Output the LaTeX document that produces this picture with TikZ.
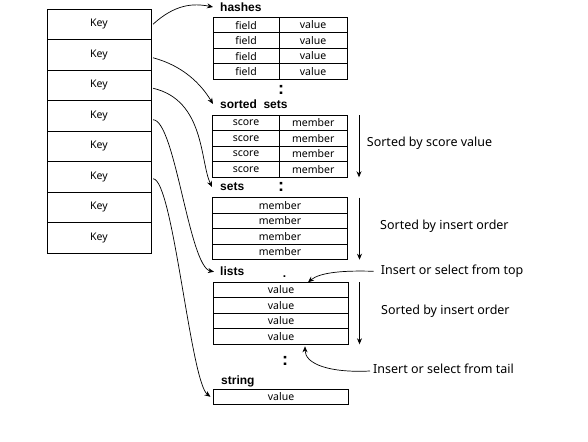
\documentclass[tikz,border=0pt]{standalone}
\usepackage{fontspec}
\setmainfont{Noto Sans}
\newfontfamily\titlefont{Liberation Sans}
\usepackage{tikz}
\usetikzlibrary{positioning, arrows.meta, calc}

\begin{document}
\begin{tikzpicture}[x=1pt, y=-1pt, node distance=0pt]
    \tikzstyle{cell} = [rectangle, draw, line width=0.8pt, inner sep=0pt, outer sep=0pt, minimum height=15.5pt, font=\fontsize{10.5}{11}\selectfont]
    \tikzstyle{keycell} = [cell, minimum width=104pt, minimum height=30.5pt]
    \tikzstyle{title} = [anchor=west, inner sep=0pt, font=\fontsize{12}{13}\selectfont\titlefont\bfseries]
    \tikzstyle{note} = [anchor=west, inner sep=0pt, font=\fontsize{12.5}{14}\selectfont]
    \tikzstyle{dots} = [inner sep=0pt, font=\fontsize{18}{18}\selectfont\titlefont\bfseries]
    \tikzstyle{arrow} = [line width=0.7pt, -{Stealth[length=6pt, width=5pt]}]

    \useasboundingbox (0,0) rectangle (588,441);

    % keys
    \node [keycell, anchor=north west] (key1) at (47,9) {Key};
    \foreach \i [remember=\i as \j (initially 1)] in {2,...,8}
        \node [keycell, below=of key\j] (key\i) {Key};

    % hashes
    \node [title] (hashes) at (220,7) {hashes};
    \node [cell, minimum width=66pt, anchor=north west] (hf1) at (213,17.3) {field};
    \node [cell, minimum width=68pt, right=of hf1] (hv1) {value};
    \foreach \i [remember=\i as \j (initially 1)] in {2,3,4} {
        \node [cell, minimum width=66pt, below=of hf\j] (hf\i) {field};
        \node [cell, minimum width=68pt, below=of hv\j] (hv\i) {value};
    }
    \node [dots] (hdots) at (281,90) {:};

    % sorted sets
    \node [title] (zsets) at (220,104) {sorted\ \ sets};
    \node [cell, minimum width=67pt, anchor=north west] (zs1) at (212.5,115.3) {score};
    \node [cell, minimum width=67.5pt, right=of zs1] (zm1) {member};
    \foreach \i [remember=\i as \j (initially 1)] in {2,3,4} {
        \node [cell, minimum width=67pt, below=of zs\j] (zs\i) {score};
        \node [cell, minimum width=67.5pt, below=of zm\j] (zm\i) {member};
    }
    \node [note] (zorder) at (366.7,143) {Sorted by score value};
    \draw [arrow] ([xshift=12pt]zm1.north east) -- ([xshift=12pt]zm4.south east);

    % sets
    \node [title] (sets) at (220,187) {sets};
    \node [dots] (zdots) at (281,187) {:};
    \node [cell, minimum width=135pt, anchor=north west] (sm1) at (212.5,197.7) {member};
    \foreach \i [remember=\i as \j (initially 1)] in {2,3,4}
        \node [cell, minimum width=135pt, below=of sm\j] (sm\i) {member};
    \node [note] (sorder) at (380,226) {Sorted by insert order};
    \draw [arrow] ([xshift=12pt]sm1.north east) -- ([xshift=12pt]sm4.south east);

    % lists
    \node [title] (lists) at (220,271.7) {lists};
    \node [inner sep=0pt, font=\fontsize{12}{12}\selectfont\titlefont\bfseries] (ldot) at (284.5,277) {.};
    \node [cell, minimum width=135pt, anchor=north west] (lv1) at (213.5,282.3) {value};
    \foreach \i [remember=\i as \j (initially 1)] in {2,3,4}
        \node [cell, minimum width=135pt, below=of lv\j] (lv\i) {value};
    \node [note] (lorder) at (381,311) {Sorted by insert order};
    \draw [arrow] ([xshift=11pt]lv1.north east) -- ([xshift=11pt]lv4.south east);
    \node [note] (ltop) at (380.7,271.3) {Insert or select from top};
    \node [note] (ltail) at (373,369) {Insert or select from tail};
    \draw [arrow] ([xshift=-7pt]ltop.west) .. controls +(-30,-1) and +(12,-10) .. ([xshift=27pt]lv1.north);
    \draw [arrow] ([xshift=-3pt, yshift=-2pt]ltail.west) .. controls +(-40,2) and +(0,18) .. ([xshift=24pt, yshift=-2pt]lv4.south);
    \node [dots] (ldots) at (285,361) {:};

    % string
    \node [title] (string) at (221,381.7) {string};
    \node [cell, minimum width=135pt, minimum height=15pt, anchor=north west] (str) at (213.5,389.3) {value};

    % keys to types
    \draw [arrow] ([xshift=2pt]key1.east) .. controls +(22,-20) and +(-20,-4) .. ([xshift=-7pt]hashes.west);
    \draw [arrow] ([xshift=2pt, yshift=-3pt]key2.east) .. controls +(30,8) and +(-12,-20) .. ([xshift=-7pt]zsets.west);
    \draw [arrow] ([xshift=2pt, yshift=-3pt]key3.east) .. controls +(52,12) and +(-12,-25) .. ([xshift=-8pt]sets.west);
    \draw [arrow] ([xshift=2pt, yshift=-4pt]key4.east) .. controls +(22,0) and +(-25,-5) .. ([xshift=-6pt]lists.west);
    \draw [arrow] ([xshift=2pt, yshift=-2pt]key6.east) .. controls +(20,0) and +(-20,-15) .. ([xshift=-3pt]str.west);
\end{tikzpicture}
\end{document}
